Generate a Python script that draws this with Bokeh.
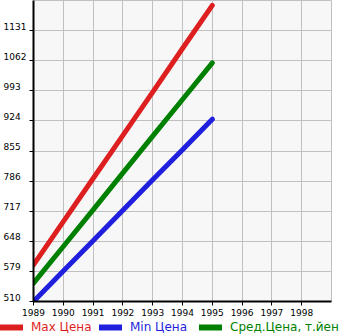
from bokeh.plotting import figure
from bokeh.layouts import column, row
from bokeh.models import FixedTicker, Legend, LegendItem, Range1d
from bokeh.embed import file_html
from bokeh.resources import INLINE

years = [1989, 1990, 1991, 1992, 1993, 1994, 1995]
max_price = [594, 693, 792, 891, 990, 1090, 1189]
avg_price = [552, 636, 720, 805, 889, 973, 1057]
min_price = [510, 580, 649, 719, 789, 858, 928]

x_ticks = [1989, 1990, 1991, 1992, 1993, 1994, 1995, 1996, 1997, 1998]
y_ticks = [510, 579, 648, 717, 786, 855, 924, 993, 1062, 1131]

labels = ["Max Цена", "Min Цена", "Сред.Цена, т.йен"]
colors = ["#dd1f1f", "#1f1fdd", "#008000"]
series = [max_price, min_price, avg_price]

p = figure(width=345, height=318, output_backend="svg", toolbar_location=None,
           x_range=Range1d(1989, 1999), y_range=Range1d(510, 1200),
           min_border_left=31, min_border_right=14, min_border_top=0,
           min_border_bottom=17)
p.background_fill_color = "#f7f7f7"
p.border_fill_color = "white"
p.outline_line_color = "#c0c0c0"

font = "DejaVu Sans"
for ax in (p.xaxis[0], p.yaxis[0]):
    ax.axis_line_width = 2
    ax.axis_line_color = "black"
    ax.major_tick_line_color = "black"
    ax.major_tick_out = 4
    ax.major_tick_in = 0
    ax.minor_tick_out = 0
    ax.minor_tick_in = 0
    ax.major_label_text_font = font
    ax.major_label_text_font_size = "9px"
    ax.major_label_text_color = "black"

p.xaxis.ticker = FixedTicker(ticks=x_ticks)
p.yaxis.ticker = FixedTicker(ticks=y_ticks)
# trailing blank line lifts each label so it sits just above its tick
p.yaxis.major_label_overrides = {t: (str(t) if t >= 1000 else str(t) + "\u2007") + "\n" for t in y_ticks}
p.yaxis.major_label_text_line_height = 0.8
p.xaxis.major_label_standoff = 3
p.yaxis.major_label_standoff = 3

p.xgrid.ticker = FixedTicker(ticks=x_ticks)
p.ygrid.ticker = FixedTicker(ticks=y_ticks)
p.grid.grid_line_color = "#c0c0c0"
p.grid.grid_line_width = 1

for vals, col in zip(series, colors):
    p.line(years, vals, line_color=col, line_width=5, line_cap="round")

# legend strip below the chart (its lines lie outside the strip's ranges, only the legend shows)
lg = figure(width=345, height=17, output_backend="svg", toolbar_location=None,
            x_axis_location=None, y_axis_location=None,
            x_range=Range1d(0, 1), y_range=Range1d(0, 1),
            min_border_left=0, min_border_right=0, min_border_top=0,
            min_border_bottom=0)
lg.outline_line_color = None
lg.background_fill_color = "white"
lg.border_fill_color = "white"
lg.grid.visible = False

legend_x = [0, 99, 199]
for lab, col, vals, lx in zip(labels, colors, series, legend_x):
    r = lg.line(years, vals, line_color=col, line_width=6, line_cap="round")
    leg = Legend(items=[LegendItem(label=lab, renderers=[r])],
                 orientation="horizontal", location=(lx, 1),
                 margin=0, padding=0, spacing=0, label_standoff=8,
                 glyph_width=23, glyph_height=12, label_height=12,
                 label_text_font=font, label_text_font_size="12px",
                 label_text_color=col,
                 background_fill_alpha=0, border_line_alpha=0)
    lg.add_layout(leg, "center")

layout = column(p, row(lg), spacing=0)
open("out.html", "w").write(file_html(layout, INLINE))
